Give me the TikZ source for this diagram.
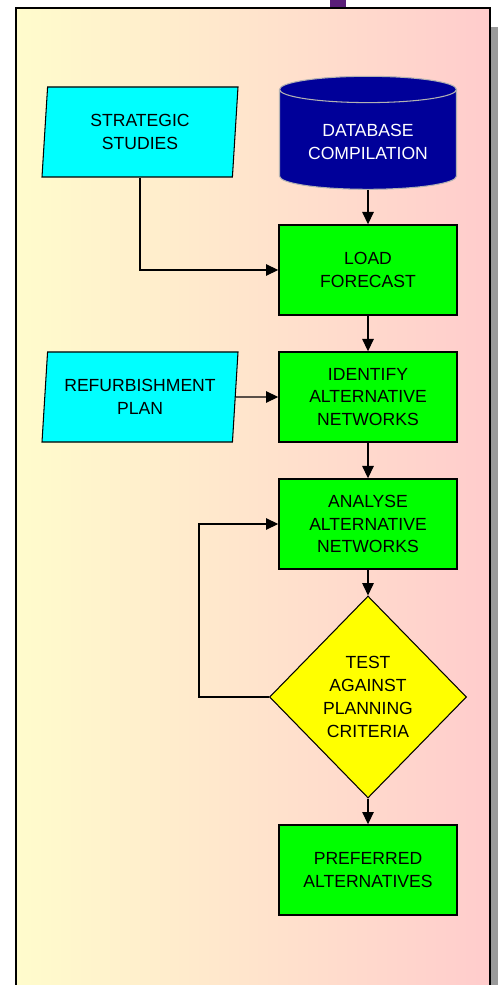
\documentclass[tikz,border=0pt]{standalone}
\usepackage{fontspec}
\setmainfont{Liberation Sans}
\usetikzlibrary{positioning,arrows.meta,shapes.geometric}
\definecolor{paneyellow}{HTML}{FFFCCC}
\definecolor{panepink}{HTML}{FFCCCC}
\definecolor{boxgreen}{HTML}{00FF00}
\definecolor{iocyan}{HTML}{00FFFF}
\definecolor{dbblue}{HTML}{000099}
\definecolor{testyellow}{HTML}{FFFF00}
\definecolor{shadowgrey}{HTML}{9A9A9A}
\definecolor{slidepurple}{HTML}{5A1E78}

\begin{document}
\begin{tikzpicture}[x=1cm,y=-1cm,
  font=\fontsize{10}{13}\selectfont,
  process/.style={draw=black,line width=0.8pt,fill=boxgreen,minimum width=3.56cm,
    minimum height=1.8cm,align=center,inner sep=0pt},
  inputbox/.style={trapezium,trapezium left angle=81,trapezium right angle=99,
    trapezium stretches body,draw=black,line width=0.6pt,fill=iocyan,
    minimum width=3.92cm,minimum height=1.8cm,align=center,inner sep=0pt},
  store/.style={cylinder,shape border rotate=90,aspect=0.2,draw=black!30!white,
    line width=0.6pt,fill=dbblue,text=white,minimum width=3.54cm,
    minimum height=2.26cm,align=center},
  decision/.style={diamond,draw=black,line width=0.6pt,fill=testyellow,
    minimum width=3.94cm,minimum height=4.04cm,inner sep=0pt,align=center},
  flow/.style={draw=black,line width=0.7pt,-{Triangle[length=7pt,width=6.5pt]}}]
  \useasboundingbox (0,0) rectangle (9.96,19.7);

  % slide backdrop: shadow, gradient panel
  \fill[slidepurple] (6.6,0) rectangle (6.92,0.16);
  \fill[shadowgrey] (9.8,0.54) rectangle (9.96,19.7);
  \shade[left color=paneyellow,right color=panepink] (0.32,0.16) rectangle (9.8,20);
  \draw[line width=1.2pt] (0.32,0.16) rectangle (9.8,20);

  % main column
  \node[store] (db) at (7.36,2.84) {DATABASE\\COMPILATION};
  \node[process] (load) at (7.36,5.4) {LOAD\\FORECAST};
  \node[process] (identify) at (7.36,7.94) {IDENTIFY\\ALTERNATIVE\\NETWORKS};
  \node[process] (analyse) at (7.36,10.48) {ANALYSE\\ALTERNATIVE\\NETWORKS};
  \node[decision] (test) at (7.36,13.94) {TEST\\AGAINST\\PLANNING\\CRITERIA};
  \node[process] (preferred) at (7.36,17.4) {PREFERRED\\ALTERNATIVES};

  % inputs on the left
  \node[inputbox] (studies) at (2.8,2.64) {STRATEGIC\\STUDIES};
  \node[inputbox] (refurb) at (2.8,7.94) {REFURBISHMENT\\PLAN};

  \draw[flow] (db) -- (load);
  \draw[flow] (studies.south) |- (load);
  \draw[flow] (load) -- (identify);
  \draw[flow] (refurb) -- (identify);
  \draw[flow] (identify) -- (analyse);
  \draw[flow] (analyse) -- (test);
  \draw[flow] (test.west) -- ++(-1.4,0) |- (analyse.west);
  \draw[flow] (test) -- (preferred);
\end{tikzpicture}
\end{document}
